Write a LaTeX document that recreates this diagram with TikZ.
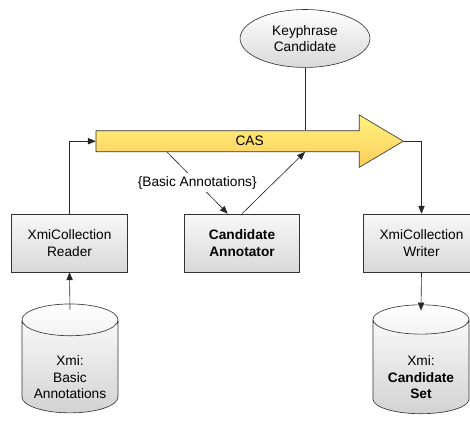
\documentclass[tikz,border=0pt]{standalone}
\usepackage{fontspec}
\setmainfont{Liberation Sans}
\usetikzlibrary{shapes.geometric,arrows.meta,calc}

\definecolor{casTop}{RGB}{255,242,125}
\definecolor{casBottom}{RGB}{253,205,92}

\begin{document}
\begin{tikzpicture}[font=\fontsize{13}{15.5}\selectfont]
        \tikzstyle{arrow}=[-{Triangle[length=7.5pt,width=6pt]}, draw=black!85, line width=0.6pt];
        \tikzstyle{module}=[draw=black!80, line width=0.6pt, top color=gray!6, bottom color=gray!30, minimum width=3.85cm, minimum height=1.93cm, align=center];
        \tikzstyle{store}=[cylinder, shape border rotate=90, aspect=0.4, draw=black!80, line width=0.6pt, top color=white, bottom color=gray!35, minimum width=3.2cm, minimum height=3.63cm, align=center];
        \useasboundingbox (0,0) rectangle (15.667,14.2);

        \node (v1) [ellipse, draw=black!80, line width=0.6pt, top color=white, bottom color=gray!30, minimum width=4.33cm, minimum height=1.93cm, align=center] at (10.167,12.917) {Keyphrase\\Candidate};

        \draw [draw=black!80, line width=0.6pt, top color=casTop, bottom color=casBottom] (3.2,9.843) -- (11.977,9.843) -- (11.977,10.367) -- (13.443,9.493) -- (11.977,8.623) -- (11.977,9.143) -- (3.2,9.143) -- cycle;
        \node (v2) [minimum width=10.243cm, minimum height=0.7cm, inner sep=0pt] at (8.322,9.493) {CAS};

        \node (v3) [module] at (2.317,6.1) {XmiCollection\\Reader};
        \node (v4) [module] at (8.067,6.1) {\textbf{Candidate}\\\textbf{Annotator}};
        \node (v5) [module] at (14.05,6.1) {XmiCollection\\Writer};
        % strut on the first line pushes the text below the lid
        \node (v6) [store] at (2.333,1.883) {\rule{0pt}{24pt}Xmi:\\Basic\\Annotations};
        \node (v7) [store] at (14.033,1.883) {\rule{0pt}{24pt}Xmi:\\\textbf{Candidate}\\\textbf{Set}};

        \draw [arrow] (v3.north) |- (v2.west);
        \draw [arrow] (v6.north) ++(0,-0.2) -- (v3.south);
        \draw [arrow] (v2.east) -| (v5.north);
        \draw [arrow] (v5.south) -- ($(v7.north)+(0,-0.2)$);
        \draw [draw=black!85, line width=0.6pt] (v1.south) -- (v1.south |- v2.north);
        \draw [arrow] (v4.north) -- (v1.south |- v2.south);

        \coordinate (v8) at (5.557,9.143);
        \draw [arrow] (v8) -- node [fill=white, inner xsep=1pt, inner ysep=3pt] {\{Basic Annotations\}} (v4.116);
\end{tikzpicture}
\end{document}
